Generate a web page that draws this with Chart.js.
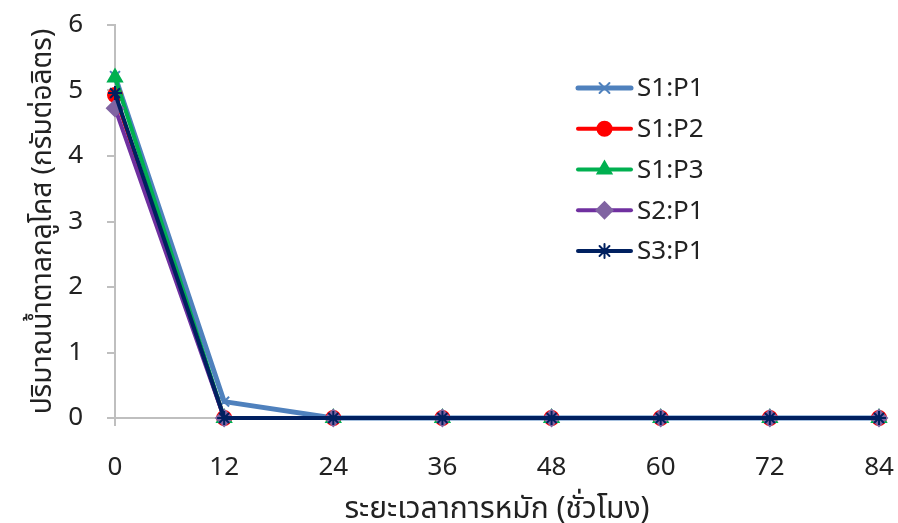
<!DOCTYPE html>
<html>
<head>
<meta charset="utf-8">
<script src="https://cdn.jsdelivr.net/npm/chart.js@4.4.0/dist/chart.umd.min.js"></script>
<style>
  html, body { margin: 0; padding: 0; background: #fff; }
  #wrap { width: 898px; height: 523px; }
</style>
</head>
<body>
<div id="wrap"><canvas id="chart-line"></canvas></div>
<script>
var hours = [0, 12, 24, 36, 48, 60, 72, 84];
var yTicks = [0, 1, 2, 3, 4, 5, 6];
var seriesNames = ["S1:P1", "S1:P2", "S1:P3", "S2:P1", "S3:P1"];
var s1p1 = [5.22, 0.25, 0, 0, 0, 0, 0, 0];
var s1p2 = [4.93, 0, 0, 0, 0, 0, 0, 0];
var s1p3 = [5.20, 0, 0, 0, 0, 0, 0, 0];
var s2p1 = [4.73, 0, 0, 0, 0, 0, 0, 0];
var s3p1 = [4.96, 0, 0, 0, 0, 0, 0, 0];

var fontFamily = "'Noto Sans', 'Noto Sans Thai', 'Loma', 'Garuda', sans-serif";
var axisGrey = "#BFBFBF";

function toPoints(values) {
    return values.map(function (v, i) { return { x: hours[i], y: v }; });
}

function makeSet(i, values, lineColor, pointColor, style, width, radius, order) {
    return {
        label: seriesNames[i],
        data: toPoints(values),
        borderColor: lineColor,
        backgroundColor: pointColor,
        pointBorderColor: pointColor,
        pointBackgroundColor: pointColor,
        pointStyle: style,
        pointRadius: radius,
        pointBorderWidth: 2,
        borderWidth: width,
        tension: 0,
        clip: false,
        order: order
    };
}

var datasets = [
    makeSet(0, s1p1, "#4F81BD", "#4F81BD", "crossRot", 5, 7, 5),
    makeSet(1, s1p2, "#FF0000", "#FF0000", "circle", 4, 7, 4),
    makeSet(2, s1p3, "#00B050", "#00B050", "triangle", 4, 8, 3),
    makeSet(3, s2p1, "#7030A0", "#8064A2", "rectRot", 4, 8, 2),
    makeSet(4, s3p1, "#002060", "#002060", "star", 4, 7, 1)
];

// short outside tick marks (the scale's own tick marks are kept invisible
// and only used to push the labels away from the axis)
var tickMarks = {
    id: "tickMarks",
    beforeDatasetsDraw: function (chart) {
        var ctx = chart.ctx;
        var xs = chart.scales.x, ys = chart.scales.y;
        ctx.save();
        ctx.strokeStyle = axisGrey;
        ctx.lineWidth = 2;
        ctx.beginPath();
        hours.forEach(function (h) {
            var px = Math.round(xs.getPixelForValue(h));
            ctx.moveTo(px, xs.top);
            ctx.lineTo(px, xs.top + 8);
        });
        yTicks.forEach(function (v) {
            var py = Math.round(ys.getPixelForValue(v));
            ctx.moveTo(ys.right, py);
            ctx.lineTo(ys.right - 8, py);
        });
        ctx.stroke();
        ctx.restore();
    }
};

// legend drawn by hand: line with the marker in the middle, like the original
var legendPlugin = {
    id: "sideLegend",
    afterDraw: function (chart) {
        var ctx = chart.ctx;
        var x0 = 578, x1 = 631, tx = 637, y = 88, step = 40.75;
        chart.data.datasets.forEach(function (ds, i) {
            var yy = y + i * step;
            ctx.save();
            ctx.strokeStyle = ds.borderColor;
            ctx.lineWidth = ds.borderWidth;
            ctx.lineCap = "round";
            ctx.beginPath();
            ctx.moveTo(x0, yy);
            ctx.lineTo(x1, yy);
            ctx.stroke();
            // drawPoint takes fill/stroke from the context
            ctx.fillStyle = ds.pointBackgroundColor;
            ctx.strokeStyle = ds.pointBorderColor;
            ctx.lineWidth = ds.pointBorderWidth;
            Chart.helpers.drawPoint(ctx, {
                pointStyle: ds.pointStyle,
                radius: ds.pointRadius,
                rotation: 0,
                borderWidth: ds.pointBorderWidth
            }, (x0 + x1) / 2, yy);
            ctx.fillStyle = "#222";
            ctx.font = "26px " + fontFamily;
            ctx.textBaseline = "middle";
            ctx.textAlign = "left";
            ctx.fillText(ds.label, tx, yy + 1);
            ctx.restore();
        });
    }
};

var ctx1 = document.getElementById("chart-line").getContext("2d");

new Chart(ctx1, {
    type: "line",
    data: { datasets: datasets },
    plugins: [tickMarks, legendPlugin],
    options: {
        responsive: true,
        maintainAspectRatio: false,
        animation: false,
        layout: { padding: { top: 25, right: 19, left: 0, bottom: 0 } },
        plugins: {
            legend: { display: false },
            tooltip: { enabled: false }
        },
        scales: {
            x: {
                type: "linear",
                min: hours[0],
                max: hours[hours.length - 1],
                afterFit: function (scale) { scale.height = 105; },
                afterBuildTicks: function (scale) {
                    scale.ticks = hours.map(function (h) { return { value: h }; });
                },
                grid: {
                    drawOnChartArea: false,
                    drawTicks: true,
                    tickLength: 34,
                    tickColor: "rgba(0,0,0,0)"
                },
                border: { color: axisGrey, width: 2 },
                ticks: {
                    color: "#222",
                    padding: 0,
                    maxRotation: 0,
                    font: { family: fontFamily, size: 26 }
                },
                title: {
                    display: true,
                    text: "ระยะเวลาการหมัก (ชั่วโมง)",
                    color: "#222",
                    padding: { top: 0, bottom: -4 },
                    font: { family: fontFamily, size: 30 }
                }
            },
            y: {
                min: yTicks[0],
                max: yTicks[yTicks.length - 1],
                afterFit: function (scale) { scale.width = 115; },
                afterBuildTicks: function (scale) {
                    scale.ticks = yTicks.map(function (v) { return { value: v }; });
                },
                grid: {
                    drawOnChartArea: false,
                    drawTicks: true,
                    tickLength: 32,
                    tickColor: "rgba(0,0,0,0)"
                },
                border: { color: axisGrey, width: 2 },
                ticks: {
                    color: "#222",
                    padding: 0,
                    font: { family: fontFamily, size: 26 }
                },
                title: {
                    display: true,
                    text: "ปริมาณน้ำตาลกลูโคส (กรัมต่อลิตร)",
                    color: "#222",
                    padding: { top: 26, bottom: 0 },
                    font: { family: fontFamily, size: 28 }
                }
            }
        }
    }
});
</script>
</body>
</html>
